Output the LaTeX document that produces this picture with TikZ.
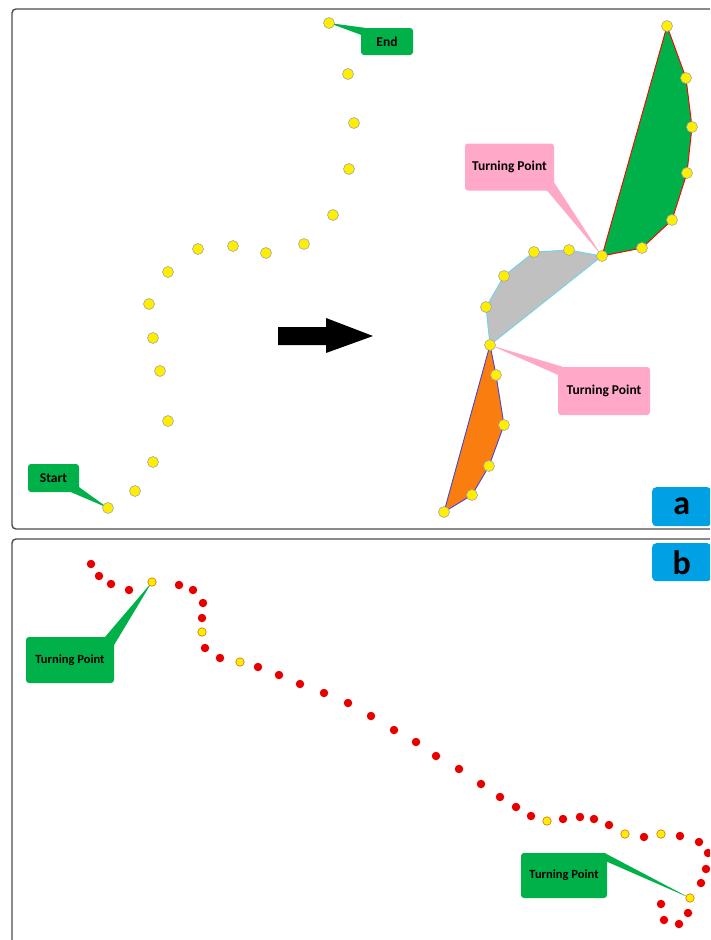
\documentclass[tikz,border=0pt]{standalone}
\usepackage{fontspec}
\setmainfont{Carlito}
\usetikzlibrary{calc,backgrounds}

\definecolor{dotyellow}{RGB}{255,238,0}
\definecolor{dotred}{RGB}{232,0,0}
\definecolor{calloutgreen}{RGB}{0,176,72}
\definecolor{calloutpink}{RGB}{255,168,200}
\definecolor{tagblue}{RGB}{0,160,228}
\definecolor{hullorange}{RGB}{250,125,15}
\definecolor{hullgray}{RGB}{192,192,192}
\definecolor{hullcyan}{RGB}{110,212,232}
\definecolor{hullblue}{RGB}{70,70,210}

\tikzset{
  pt/.style={circle,draw=black!35,fill=dotyellow,inner sep=0pt,minimum size=11pt,line width=0.6pt},
  rdot/.style={circle,fill=dotred,inner sep=0pt,minimum size=8.5pt},
  ydot/.style={circle,draw=orange!85!black,fill=dotyellow,inner sep=0pt,minimum size=8.5pt,line width=0.6pt},
  callout/.style={rounded corners=3pt,inner sep=0pt,font=\bfseries\fontsize{13.5}{13.5}\selectfont},
  panel/.style={draw=black!70,line width=1.4pt,rounded corners=4pt},
  tag/.style={fill=tagblue,rounded corners=4pt,inner sep=0pt,anchor=north west,font=\bfseries\fontsize{34}{34}\selectfont}
}

\begin{document}
\begin{tikzpicture}[x=1pt,y=-1pt]
	\useasboundingbox (0,0) rectangle (710,940);
	\clip (0,0) rectangle (710,940);
	
	% panels
	\draw[panel] (12,9) rectangle (740,529);
	\draw[panel] (12,539) rectangle (740,960);
	\node[tag,minimum width=59,minimum height=39] (taga) at (652,487) {a};
	\node[tag,minimum width=59,minimum height=38] (tagb) at (652,543) {b};
	
	% (a) raw trajectory
	\foreach \x/\y [count=\i] in {329/23,348/74,354/123,349/169,333/215,304/244,266/253,233/246,198/249,168/272,149/304,153/338,160/371,168/421,153/462,135/491,108/508}
		\node[pt] (s\i) at (\x,\y) {};
	
	\fill (278,327) -- (326,327) -- (326,318) -- (373,336) -- (326,353) -- (326,345) -- (278,345) -- cycle;
	
	% (a) segments
	\foreach \x/\y [count=\i] in {667/26,686/78,692/127,687/173,672/220,642/248,602/256}
		\coordinate (g\i) at (\x,\y);
	\foreach \x/\y [count=\i] in {602/256,569/250,534/252,504/276,486/307,490/345}
		\coordinate (c\i) at (\x,\y);
	\foreach \x/\y [count=\i] in {490/345,496/375,504/425,489/466,472/495,444/512}
		\coordinate (o\i) at (\x,\y);
	
	\filldraw[fill=calloutgreen,draw=red,line width=0.9pt] (g1) -- (g2) -- (g3) -- (g4) -- (g5) -- (g6) -- (g7) -- cycle;
	\filldraw[fill=hullgray,draw=hullcyan,line width=0.9pt] (c1) -- (c2) -- (c3) -- (c4) -- (c5) -- (c6) -- cycle;
	\filldraw[fill=hullorange,draw=hullblue,line width=0.9pt] (o1) -- (o2) -- (o3) -- (o4) -- (o5) -- (o6) -- cycle;
	
	\foreach \c in {g1,g2,g3,g4,g5,g6,g7,c2,c3,c4,c5,c6,o2,o3,o4,o5,o6}
		\node[pt] (d\c) at (\c) {};
	
	% (b) trajectory
	\foreach \x/\y/\k [count=\i] in {91/564/rdot,99/576/rdot,111/584/rdot,129/590/rdot,152/582/ydot,179/585/rdot,193/590/rdot,203/603/rdot,202/618/rdot,202/632/ydot,205/648/rdot,220/658/rdot,240/662/ydot,258/667/rdot,279/675/rdot,300/684/rdot,324/693/rdot,348/703/rdot,371/716/rdot,394/730/rdot,416/742/rdot,436/756/rdot,459/769/rdot,481/784/rdot,500/797/rdot,516/807/rdot,531/816/rdot,547/821/ydot,563/819/rdot,580/817/rdot,594/819/rdot,609/825/rdot,625/834/ydot,644/837/rdot,661/834/ydot,680/836/rdot,699/842/rdot,708/853/rdot,706/869/rdot,701/883/rdot,690/898/ydot,688/913/rdot,679/924/rdot,664/920/rdot,661/904/rdot}
		\node[\k] (b\i) at (\x,\y) {};
	
	% callouts
	\node[callout,fill=calloutgreen,minimum width=52,minimum height=27] (lblEnd) at (387,41.5) {End};
	\node[callout,fill=calloutgreen,minimum width=51,minimum height=28] (lblStart) at (53.5,478) {Start};
	\node[callout,fill=calloutpink,minimum width=89,minimum height=47] (tp1) at (509.5,167) {Turning Point};
	\node[callout,fill=calloutpink,minimum width=92,minimum height=48] (tp2) at (604,391) {Turning Point};
	\node[callout,fill=calloutgreen,minimum width=88,minimum height=46,font=\bfseries\fontsize{12.5}{12.5}\selectfont] (tb1) at (70,660) {Turning Point};
	\node[callout,fill=calloutgreen,minimum width=86,minimum height=45,font=\bfseries\fontsize{12.5}{12.5}\selectfont] (tb2) at (564,875.5) {Turning Point};
	
	\begin{pgfonlayer}{background}
		\fill[calloutgreen] (s1.center) -- ($(lblEnd.north west)+(4,0)$) -- ($(lblEnd.north west)+(0,7)$) -- cycle;
		\fill[calloutgreen] (s17.center) -- ($(lblStart.south east)+(-8,0)$) -- ($(lblStart.south east)+(0,-5)$) -- cycle;
		\fill[calloutpink] (dg7.center) -- ($(tp1.south east)+(-7,0)$) -- ($(tp1.south east)+(0,-8)$) -- cycle;
		\fill[calloutpink] (dc6.center) -- ($(tp2.north west)+(5,0)$) -- ($(tp2.north west)+(0,8)$) -- cycle;
		\fill[calloutgreen] (b5.center) -- ($(tb1.north east)+(-9,0)$) -- ($(tb1.north east)+(0,8)$) -- cycle;
		\fill[calloutgreen] (b41.center) -- ($(tb2.north east)+(-3,0)$) -- ($(tb2.north east)+(0,9)$) -- cycle;
	\end{pgfonlayer}
\end{tikzpicture}
\end{document}
